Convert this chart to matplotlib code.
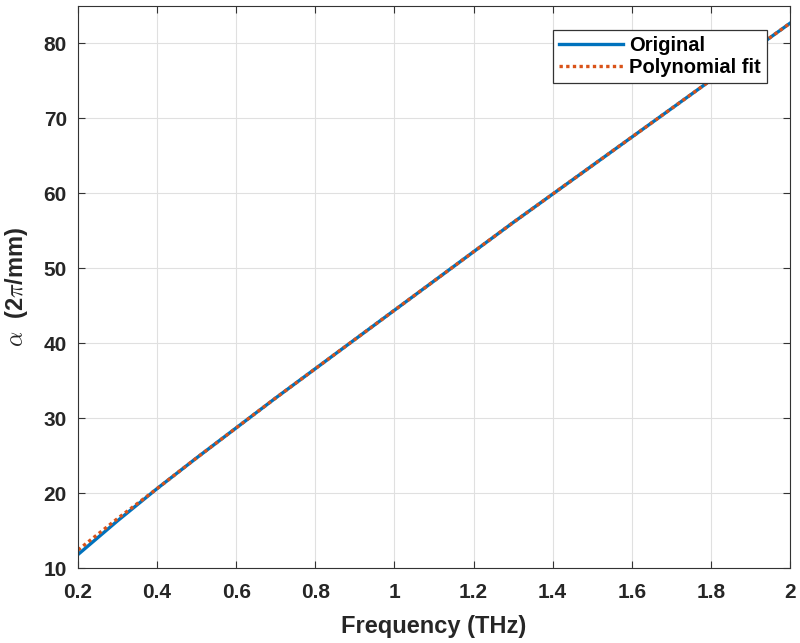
import numpy as np
import matplotlib
matplotlib.use('Agg')
import matplotlib.pyplot as plt

plt.rcParams['font.family'] = ['Liberation Sans', 'DejaVu Sans']
plt.rcParams['font.weight'] = 'bold'
plt.rcParams['mathtext.fontset'] = 'cm'

# 주파수 (THz)
freq = [0.2, 0.3, 0.4, 0.5, 0.6, 0.7, 0.8, 0.9, 1.0, 1.1,
        1.2, 1.3, 1.4, 1.5, 1.6, 1.7, 1.8, 1.9, 2.0]
# 원본 곡선
alpha_orig = [11.8, 16.3, 20.6, 24.7, 28.7, 32.7, 36.6, 40.5, 44.4, 48.3,
              52.2, 56.1, 59.9, 63.7, 67.5, 71.3, 75.1, 78.9, 82.7]
# 다항식 피팅
alpha_fit = [12.4, 16.6, 20.6, 24.7, 28.7, 32.7, 36.6, 40.5, 44.4, 48.3,
             52.2, 56.1, 59.9, 63.7, 67.5, 71.3, 75.1, 78.9, 82.7]

txtc = '#262626'

fig = plt.figure(figsize=(8, 6.43), dpi=100)
ax = fig.add_axes([78/800, 1-568/643, (790-78)/800, (568-6)/643])

ax.plot(freq, alpha_orig, color='#0072BD', lw=2.4, label='Original')
ax.plot(freq, alpha_fit, color='#D95319', lw=2.4, ls=(0, (1, 1)), label='Polynomial fit')

ax.set_xlim(0.2, 2)
ax.set_ylim(10, 85)
ax.set_xticks(np.arange(0.2, 2.01, 0.2))
ax.set_xticklabels(['0.2', '0.4', '0.6', '0.8', '1', '1.2', '1.4', '1.6', '1.8', '2'])
ax.set_yticks(range(10, 81, 10))
ax.grid(True, color='#e0e0e0', lw=0.8)
ax.tick_params(direction='in', top=True, right=True, labelsize=15, color='#333333',
               labelcolor=txtc, length=5)
ax.tick_params(axis='x', pad=11)
ax.tick_params(axis='y', pad=8)
for s in ax.spines.values():
    s.set_color('#333333')
    s.set_linewidth(0.8)

ax.set_xlabel('Frequency (THz)', fontsize=17, fontweight='bold', color=txtc, labelpad=9)
ax.set_ylabel(r'$\alpha$  (2$\pi$/mm)', fontsize=17, fontweight='bold', color=txtc, labelpad=10)

leg = ax.legend(loc='upper right', bbox_to_anchor=(767/800, 1-30/643),
                bbox_transform=fig.transFigure, borderaxespad=0, fontsize=14.5,
                fancybox=False, framealpha=1, edgecolor='#333333',
                handlelength=3.2, borderpad=0.3, labelspacing=0.15, handletextpad=0.3)
leg.get_frame().set_linewidth(0.9)
for t in leg.get_texts():
    t.set_color('black')

fig.savefig('out.png', dpi=100)
